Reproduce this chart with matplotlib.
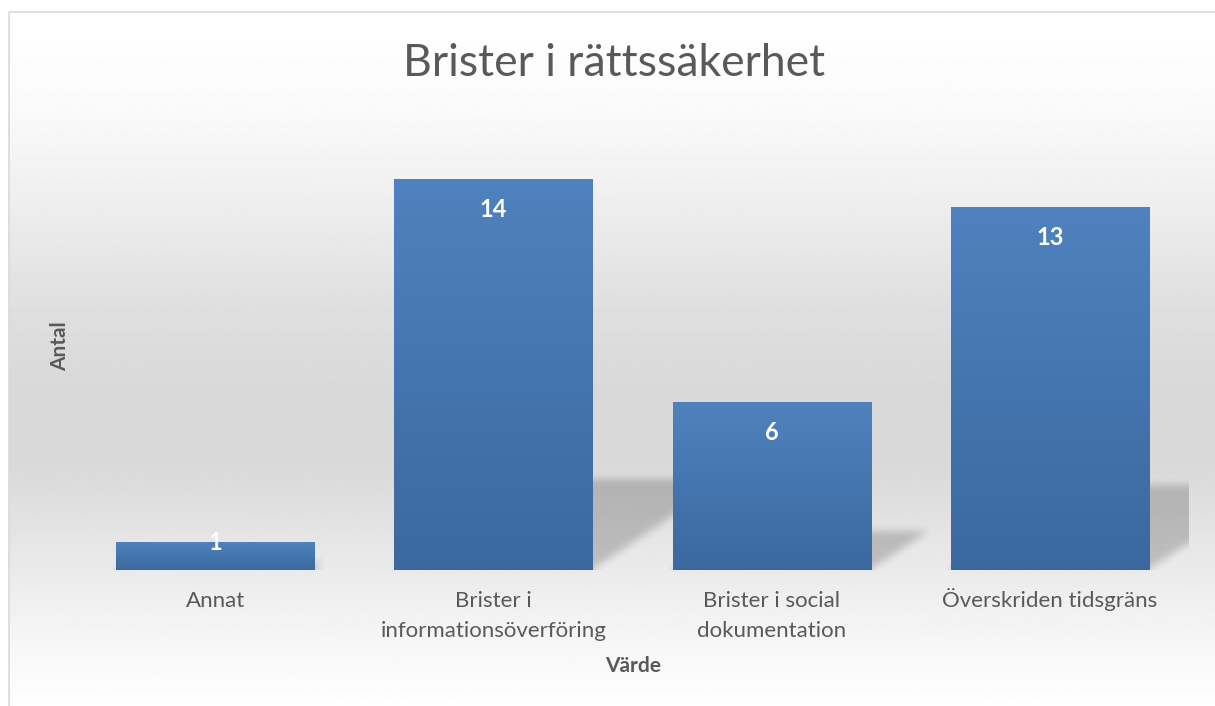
import numpy as np
import matplotlib.pyplot as plt
from matplotlib.patches import Rectangle
from matplotlib.colors import LinearSegmentedColormap
from matplotlib.transforms import ScaledTranslation

# Data
categories = ['Annat', 'Brister i\ninformationsöverföring', 'Brister i social\ndokumentation',
              'Överskriden tidsgräns']
values = [1, 14, 6, 13]

title = 'Brister i rättssäkerhet'
xlabel = 'Värde'
ylabel = 'Antal'

text_color = '#595959'
font = 'Lato'

W, H = 1215, 706
fig = plt.figure(figsize=(W / 100, H / 100), dpi=100)

# background gradient (chart area) + frame
bg = fig.add_axes([0, 0, 1, 1], zorder=-10)
bg.set_axis_off()
bg.set_xlim(0, W)
bg.set_ylim(H, 0)
stops_y = [12, 100, 200, 300, 380, 460, 560, 640, 706]
stops_c = [1.0, 0.98, 0.93, 0.875, 0.85, 0.85, 0.915, 0.965, 1.0]
yy = np.arange(H)
col = np.interp(yy, stops_y, stops_c)
img = np.repeat(col[:, None], 2, axis=1)
bg.imshow(img, cmap='gray', vmin=0, vmax=1, extent=[9, W + 5, H, 12], aspect='auto',
          interpolation='bilinear')
bg.add_patch(Rectangle((9, 12), W, H, fill=False, edgecolor='#d9d9d9', lw=1.2))

# plot area
ax = fig.add_axes([76 / W, (H - 570) / H, (1189 - 76) / W, (570 - 123) / H])
ax.patch.set_alpha(0)
x = np.arange(len(categories))
width = 0.712
xmin, xmax, ymax = -0.5, len(categories) - 0.5, 16


def box_blur(a, r, axis):
    pad = [(0, 0), (0, 0)]
    pad[axis] = (r + 1, r)
    c = np.cumsum(np.pad(a, pad, mode='edge'), axis=axis)
    n = a.shape[axis]
    if axis == 0:
        return (c[2 * r + 1:2 * r + 1 + n] - c[:n]) / (2 * r + 1)
    return (c[:, 2 * r + 1:2 * r + 1 + n] - c[:, :n]) / (2 * r + 1)


# perspective shadows behind the bars (blurred parallelograms)
nx, ny = 1113, 447
X = np.linspace(xmin, xmax, nx)[None, :]
Y = np.linspace(0, ymax, ny)[:, None]
mask = np.zeros((ny, nx))
for xi, v in zip(x, values):
    hs = 0.233 * v
    dx = 0.0347 * v
    L, R = xi - width / 2, xi + width / 2
    t = Y / hs
    inside = (Y <= hs) & (X >= L + dx * t) & (X <= R + dx * t)
    mask = np.maximum(mask, inside.astype(float))
for _ in range(2):
    mask = box_blur(mask, 4, 0)
    mask = box_blur(mask, 4, 1)
shadow = np.zeros((ny, nx, 4))
shadow[..., 3] = mask * 0.19
ax.imshow(shadow, extent=[xmin, xmax, 0, ymax], origin='lower', aspect='auto', zorder=1)

bars = ax.bar(x, values, width, color='#4a7ab5', zorder=2)

# vertical gradient in each bar
grad = LinearSegmentedColormap.from_list('barg', ['#3b689f', '#4f82be'])
gimg = np.linspace(0, 1, 256)[:, None]
for b in bars:
    im = ax.imshow(gimg, cmap=grad, origin='lower', aspect='auto', zorder=3,
                   extent=[b.get_x(), b.get_x() + b.get_width(), 0, b.get_height()])
    im.set_clip_path(b)
ax.set_xlim(xmin, xmax)
ax.set_ylim(0, ymax)

# value labels
for xi, v in zip(x, values):
    off = -22 if v > 2 else 0
    ax.annotate(str(v), (xi, v), xytext=(0, off), textcoords='offset points',
                ha='center', va='center', color='white', fontsize=17,
                fontweight='bold', family=font, zorder=5)

for s in ax.spines.values():
    s.set_visible(False)
ax.set_yticks([])
ax.set_xticks(x)
ax.set_xticklabels(categories, fontsize=16, color=text_color, family=font)
ax.tick_params(axis='x', length=0, pad=15)
for t in ax.get_xticklabels():
    t.set_linespacing(1.62)
    if t.get_text()[0] in 'ÅÄÖ':
        t.set_transform(t.get_transform() + ScaledTranslation(0, 3 / 100, fig.dpi_scale_trans))

fig.text(633 / W, 1 - 666 / H, xlabel, ha='center', va='center', fontsize=15,
         fontweight='bold', color=text_color, family=font)
fig.text(60 / W, 1 - 346 / H, ylabel, ha='center', va='center', rotation=90,
         fontsize=15, fontweight='bold', color=text_color, family=font)
fig.text(614 / W, 1 - 64 / H, title, ha='center', va='center', fontsize=32,
         color=text_color, family=font)

plt.savefig('out.png', dpi=100)
